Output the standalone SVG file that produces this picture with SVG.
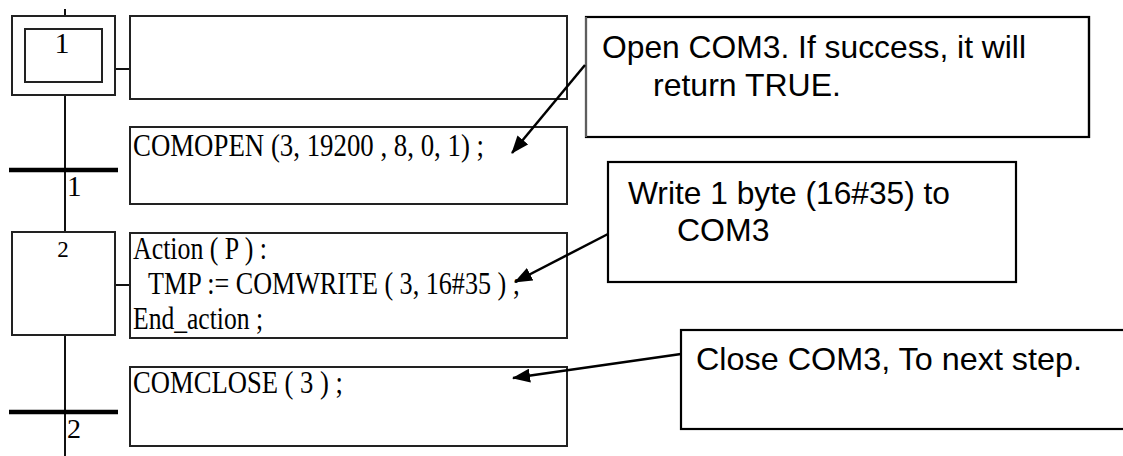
<svg xmlns="http://www.w3.org/2000/svg" width="1123" height="456" viewBox="0 0 1123 456">
<style>
.bx{fill:#fff;stroke:#222;stroke-width:2}
.cb{fill:#fff;stroke:#000;stroke-width:2.2}
.ln{stroke:#111;stroke-width:2;fill:none}
.bar{stroke:#000;stroke-width:4.5}
.code{font-family:"Liberation Serif","Times New Roman",serif;font-size:31px;fill:#000}
.num{font-family:"Liberation Serif","Times New Roman",serif;fill:#000}
.note{font-family:"Liberation Sans",Arial,sans-serif;font-size:32px;fill:#000}
.arr{stroke:#000;stroke-width:2.5;fill:none;marker-end:url(#ah)}
</style>
<defs>
<marker id="ah" markerUnits="userSpaceOnUse" markerWidth="18" markerHeight="14" refX="17" refY="7" orient="auto">
<path d="M0,0 L18,7 L0,14 z" fill="#000"/>
</marker>
</defs>
<rect width="1123" height="456" fill="#fff"/>
<g id="sfc-lines">
<line class="ln" x1="65" y1="9" x2="65" y2="16"/>
<line class="ln" x1="65" y1="95" x2="65" y2="232"/>
<line class="ln" x1="65" y1="335" x2="65" y2="456"/>
<line class="ln" x1="115" y1="69" x2="130" y2="69"/>
<line class="ln" x1="115" y1="285" x2="130" y2="285"/>
</g>
<g id="step1">
<rect class="bx" x="12" y="16" width="103" height="79"/>
<rect class="bx" x="25" y="29" width="77" height="53"/>
<text class="num" x="62" y="53" font-size="30" text-anchor="middle">1</text>
</g>
<g id="action1">
<rect class="bx" x="130" y="16" width="437" height="83"/>
</g>
<g id="transition1">
<line class="bar" x1="9" y1="170" x2="118" y2="170"/>
<text class="num" x="67" y="196" font-size="29">1</text>
</g>
<g id="cond1">
<rect class="bx" x="130" y="127" width="437" height="77"/>
<text class="code" x="133" y="156" textLength="351" lengthAdjust="spacingAndGlyphs">COMOPEN (3, 19200 , 8, 0, 1) ;</text>
</g>
<g id="step2">
<rect class="bx" x="12" y="232" width="103" height="103"/>
<text class="num" x="63" y="257" font-size="23" text-anchor="middle">2</text>
</g>
<g id="action2">
<rect class="bx" x="130" y="233" width="437" height="105"/>
<text class="code" x="133" y="259" textLength="134" lengthAdjust="spacingAndGlyphs">Action ( P ) :</text>
<text class="code" x="148" y="294" textLength="372" lengthAdjust="spacingAndGlyphs">TMP := COMWRITE ( 3, 16#35 ) ;</text>
<text class="code" x="133" y="329" textLength="130" lengthAdjust="spacingAndGlyphs">End_action ;</text>
</g>
<g id="transition2">
<line class="bar" x1="9" y1="412" x2="118" y2="412"/>
<text class="num" x="67" y="438" font-size="28">2</text>
</g>
<g id="cond2">
<rect class="bx" x="130" y="367" width="437" height="79"/>
<text class="code" x="133" y="393" textLength="210" lengthAdjust="spacingAndGlyphs">COMCLOSE ( 3 ) ;</text>
</g>
<g id="note1">
<rect class="cb" x="586" y="17" width="503" height="120" stroke="none"/>
<path d="M586,17 H1089 V137 H586" fill="none" stroke="#000" stroke-width="2.2"/>
<line x1="586" y1="17" x2="586" y2="137" stroke="#bbb" stroke-width="1"/>
<text class="note" x="602" y="58" textLength="424" lengthAdjust="spacingAndGlyphs">Open COM3. If success, it will</text>
<text class="note" x="653" y="96">return TRUE.</text>
</g>
<g id="note2">
<rect class="cb" x="608" y="162" width="408" height="120"/>
<text class="note" x="628" y="204" textLength="322" lengthAdjust="spacingAndGlyphs">Write 1 byte (16#35) to</text>
<text class="note" x="677" y="241">COM3</text>
</g>
<g id="note3">
<rect class="cb" x="681" y="330" width="460" height="99"/>
<text class="note" x="696" y="370" textLength="386" lengthAdjust="spacingAndGlyphs">Close COM3, To next step.</text>
</g>
<g id="connectors">
<line class="arr" x1="585" y1="65" x2="512" y2="153"/>
<line class="arr" x1="608" y1="234" x2="515" y2="282"/>
<line class="arr" x1="681" y1="354" x2="513" y2="378"/>
</g>
</svg>
